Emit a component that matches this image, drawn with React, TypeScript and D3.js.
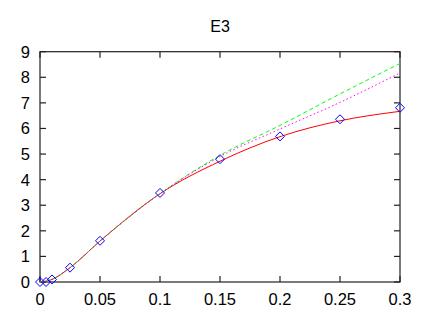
import React from "react";
import * as d3 from "d3";

const title = "E3";
const xTicks = [0, 0.05, 0.1, 0.15, 0.2, 0.25, 0.3];
const xTickLabels = ["0", "0.05", "0.1", "0.15", "0.2", "0.25", "0.3"];
const yTicks = [0, 1, 2, 3, 4, 5, 6, 7, 8, 9];

const pointX = [0, 0.005, 0.01, 0.025, 0.05, 0.1, 0.15, 0.2, 0.25, 0.3];
const pointY = [0, 0, 0.1, 0.56, 1.61, 3.48, 4.8, 5.69, 6.36, 6.81];

const lineX = [0, 0.01, 0.025, 0.05, 0.1, 0.15, 0.2, 0.25, 0.3];
const redY = [0, 0.1, 0.56, 1.6, 3.45, 4.72, 5.68, 6.3, 6.67];
const greenY = [0, 0.1, 0.56, 1.6, 3.45, 4.95, 6.12, 7.35, 8.54];
const magentaY = [0, 0.1, 0.56, 1.6, 3.45, 4.9, 5.98, 7.02, 8.17];

export default function App() {
  const W = 429, H = 317;
  const L = 40, R = 400, T = 51.7, B = 282;
  const x = d3.scaleLinear().domain([0, 0.3]).range([L, R]);
  const y = d3.scaleLinear().domain([0, 9]).range([B, T]);
  const line = d3
    .line<number>()
    .x((_, i) => x(lineX[i]))
    .y((d) => y(d))
    .curve(d3.curveMonotoneX);
  const font = "'Liberation Sans', Arial, sans-serif";
  const tk = 6;
  const axisColor = "#222";
  return (
    <svg width={W} height={H} style={{ position: "absolute", left: 0, top: 0, background: "#fff" }}>
      <text x={220} y={32} textAnchor="middle" fontFamily={font} fontSize={16}>{title}</text>
      <g stroke={axisColor} strokeWidth={1.2}>
        {yTicks.map((t) => (
          <g key={"y" + t}>
            <line x1={L} x2={L + tk} y1={y(t)} y2={y(t)} />
            <line x1={R} x2={R - tk} y1={y(t)} y2={y(t)} />
          </g>
        ))}
        {xTicks.map((t) => (
          <g key={"x" + t}>
            <line x1={x(t)} x2={x(t)} y1={B} y2={B - tk} />
            <line x1={x(t)} x2={x(t)} y1={T} y2={T + tk} />
          </g>
        ))}
        <rect x={L} y={T} width={R - L} height={B - T} fill="none" />
      </g>
      <g fontFamily={font} fontSize={16.5} fill="#000">
        {yTicks.map((t) => (
          <text key={"yl" + t} x={L - 10} y={y(t) + 6} textAnchor="end">{t}</text>
        ))}
        {xTicks.map((t, i) => (
          <text key={"xl" + t} x={x(t)} y={B + 23} textAnchor="middle">{xTickLabels[i]}</text>
        ))}
      </g>
      <path d={line(redY) || ""} fill="none" stroke="#ff0000" strokeWidth={1} />
      <path d={line(greenY) || ""} fill="none" stroke="#00ff00" strokeWidth={1} strokeDasharray="4,3" />
      <path d={line(magentaY) || ""} fill="none" stroke="#ff00ff" strokeWidth={1} strokeDasharray="1.5,2.5" />
      <g fill="none" stroke="#0000ff" strokeWidth={1}>
        {pointX.map((px, i) => {
          const cx = x(px), cy = y(pointY[i]), r = 4.5;
          return (
            <path key={"p" + i} d={`M${cx},${cy - r}L${cx + r},${cy}L${cx},${cy + r}L${cx - r},${cy}Z`} />
          );
        })}
      </g>
    </svg>
  );
}
